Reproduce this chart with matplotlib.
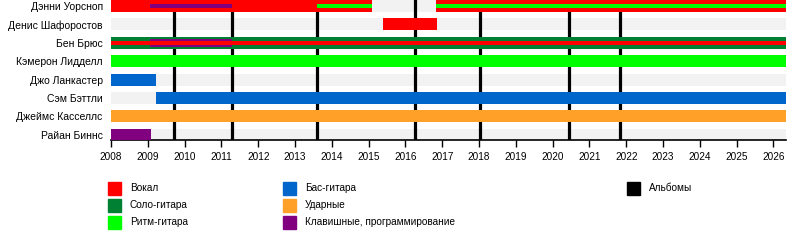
import matplotlib
matplotlib.use("Agg")
import matplotlib.pyplot as plt
from matplotlib.patches import Rectangle

plt.rcParams['font.family'] = ['Liberation Sans', 'DejaVu Sans']

START = 2008.0
END = 2026.34

members = ["Дэнни Уорсноп", "Денис Шафоростов", "Бен Брюс", "Кэмерон Лидделл",
           "Джо Ланкастер", "Сэм Бэттли", "Джеймс Касселлс", "Райан Биннс"]

# (member, role, start, end, style) ; style: full / thin / mid
spans = [
    ("Дэнни Уорсноп", "vocals", 2008.0, 2015.1, "full"),
    ("Дэнни Уорсноп", "vocals", 2016.82, END, "full"),
    ("Дэнни Уорсноп", "rhythm", 2013.6, 2015.1, "thin"),
    ("Дэнни Уорсноп", "rhythm", 2016.82, END, "thin"),
    ("Дэнни Уорсноп", "keys", 2009.05, 2011.28, "thin"),
    ("Денис Шафоростов", "vocals", 2015.4, 2016.85, "full"),
    ("Бен Брюс", "lead", 2008.0, END, "full"),
    ("Бен Брюс", "keys", 2009.05, 2011.28, "mid"),
    ("Бен Брюс", "vocals", 2008.0, END, "thin"),
    ("Кэмерон Лидделл", "rhythm", 2008.0, END, "full"),
    ("Джо Ланкастер", "bass", 2008.0, 2009.23, "full"),
    ("Сэм Бэттли", "bass", 2009.22, END, "full"),
    ("Джеймс Касселлс", "drums", 2008.0, END, "full"),
    ("Райан Биннс", "keys", 2008.0, 2009.08, "full"),
]

albums = [2009.72, 2011.28, 2013.6, 2016.27, 2018.02, 2020.44, 2021.82]

roles = ["vocals", "lead", "rhythm", "bass", "drums", "keys", "albums"]
role_labels = ["Вокал", "Соло-гитара", "Ритм-гитара", "Бас-гитара", "Ударные",
               "Клавишные, программирование", "Альбомы"]
colors = {"vocals": "#ff0000", "lead": "#008033", "rhythm": "#00ff00",
          "bass": "#0066cc", "drums": "#ffa028", "keys": "#800080",
          "albums": "#000000"}

years = list(range(2008, 2027))

fig = plt.figure(figsize=(8, 2.4), dpi=100)
ax = fig.add_axes([111/800, 100/240, 675/800, 140/240])

H = 12/18.4
heights = {"full": H, "mid": 8/18.4, "thin": 4/18.4}

for i, m in enumerate(members):
    ax.barh(i, END - START, left=START, height=H, color="#f2f2f2", zorder=1)

for a in albums:
    ax.axvline(a, color="black", lw=2.3, zorder=2)

for m, role, s, e, st in spans:
    ax.barh(members.index(m), e - s, left=s, height=heights[st],
            color=colors[role], zorder=3)

ax.set_xlim(START, END)
ax.set_ylim(7.28, -H/2)
ax.set_yticks(range(len(members)))
ax.set_yticklabels(members, fontsize=7.5)
ax.tick_params(axis="y", length=0, pad=6)
ax.set_xticks(years)
ax.set_xticklabels([str(y) for y in years], fontsize=7.2)
ax.tick_params(axis="x", length=5, width=1, pad=4)
for sp in ["top", "right", "left"]:
    ax.spines[sp].set_visible(False)
ax.spines["bottom"].set_linewidth(1.2)

# legend
cols = [108, 283, 627]
rows = [188, 205, 222]
slots = [(0, 0), (0, 1), (0, 2), (1, 0), (1, 1), (1, 2), (2, 0)]
for role, lab, (c, r) in zip(roles, role_labels, slots):
    x = cols[c]
    y = rows[r]
    fig.patches.append(Rectangle((x/800, 1 - (y + 6.5)/240), 13/800, 13/240,
                                 transform=fig.transFigure, color=colors[role]))
    fig.text((x + 22)/800, 1 - y/240, lab, fontsize=7.2, va="center", ha="left")

fig.savefig("out.png", dpi=100)
